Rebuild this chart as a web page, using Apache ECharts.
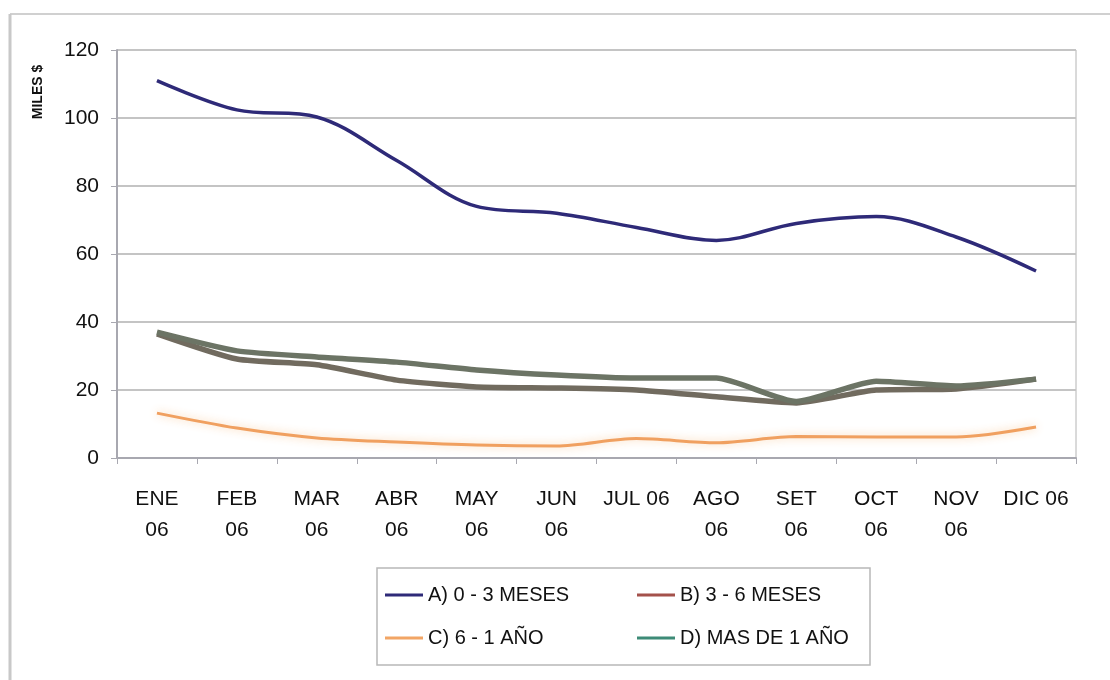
<!DOCTYPE html>
<html>
<head>
<meta charset="utf-8">
<script src="https://cdn.jsdelivr.net/npm/echarts@6/dist/echarts.min.js"></script>
<style>
  html, body { margin: 0; padding: 0; background: #ffffff; }
  #chart { width: 1110px; height: 680px; }
</style>
</head>
<body>
<div id="chart"></div>
<script>
// Month labels (as wrapped on the axis)
const months = ['ENE\n06', 'FEB\n06', 'MAR\n06', 'ABR\n06', 'MAY\n06', 'JUN\n06',
                'JUL 06', 'AGO\n06', 'SET\n06', 'OCT\n06', 'NOV\n06', 'DIC 06'];

// Balances by age bucket, thousands of dollars
const serieA = [111, 102.4, 100.3, 87.5, 74, 72, 67.8, 64, 69, 71, 65, 55];
const serieB = [36.5, 29.1, 27.4, 22.9, 20.9, 20.6, 20, 18, 16.2, 20, 20.3, 23.2];
const serieC = [13.2, 8.8, 5.9, 4.7, 3.8, 3.5, 5.7, 4.5, 6.3, 6.2, 6.2, 9.1];
const serieD = [37, 31.5, 29.7, 28.2, 25.9, 24.4, 23.5, 23.5, 16.6, 22.6, 21.2, 23.2];

const names = ['A) 0 - 3 MESES', 'B) 3 - 6 MESES', 'C) 6 - 1 AÑO', 'D) MAS DE 1 AÑO'];
const yTicks = { min: 0, max: 120, step: 20 };

const FONT = '"Liberation Sans", Arial, sans-serif';
const chart = echarts.init(document.getElementById('chart'));

function lineSeries(name, data, color, width, smooth, extra) {
  return Object.assign({
    name: name,
    type: 'line',
    data: data,
    smooth: smooth,
    symbol: 'none',
    color: color,
    lineStyle: { color: color, width: width },
    z: 3
  }, extra || {});
}

const legendText = { fontSize: 20, color: '#111', fontFamily: FONT };
function legendItem(name, color) {
  return { name: name, icon: 'rect', itemStyle: { color: color, borderWidth: 0 } };
}

chart.setOption({
  backgroundColor: '#ffffff',
  animation: false,
  grid: {
    left: 117, right: 34, top: 50, bottom: 222,
    show: true, borderColor: '#b4b4b4', borderWidth: 1
  },
  xAxis: {
    type: 'category',
    data: months,
    boundaryGap: true,
    axisLine: { lineStyle: { color: '#a8a8b0', width: 2 } },
    axisTick: { show: true, length: 6, lineStyle: { color: '#a8a8b0' } },
    axisLabel: {
      color: '#111', fontSize: 21, fontFamily: FONT, lineHeight: 31,
      margin: 26, interval: 0
    },
    splitLine: { show: false }
  },
  yAxis: {
    type: 'value',
    min: yTicks.min, max: yTicks.max, interval: yTicks.step,
    axisLine: { show: true, lineStyle: { color: '#a8a8b0', width: 2 } },
    axisTick: { show: true, length: 6, lineStyle: { color: '#a8a8b0' } },
    axisLabel: { color: '#111', fontSize: 21, fontFamily: FONT, margin: 18 },
    splitLine: { lineStyle: { color: '#c4c4c4', width: 2 } }
  },
  legend: [
    {
      orient: 'vertical', left: 380, top: 579,
      itemWidth: 38, itemHeight: 3, itemGap: 21,
      data: [legendItem(names[0], '#2e2a78'), legendItem(names[2], '#f2a565')],
      textStyle: Object.assign({ lineHeight: 22 }, legendText)
    },
    {
      orient: 'vertical', left: 632, top: 579,
      itemWidth: 38, itemHeight: 3, itemGap: 21,
      data: [legendItem(names[1], '#a4514b'), legendItem(names[3], '#3d8b77')],
      textStyle: Object.assign({ lineHeight: 22 }, legendText)
    }
  ],
  graphic: [
    // outer frame
    { type: 'line', shape: { x1: 10, y1: 14, x2: 1110, y2: 14 }, style: { stroke: '#d0d0d0', lineWidth: 2 } },
    { type: 'line', shape: { x1: 10, y1: 14, x2: 10, y2: 680 }, style: { stroke: '#c8c8c8', lineWidth: 3 } },
    // legend box
    { type: 'rect', shape: { x: 377, y: 568, width: 493, height: 97 },
      style: { fill: 'none', stroke: '#b8b8b8', lineWidth: 1.5 }, z: 0 },
    // axis title
    { type: 'text', x: 38, y: 92, rotation: Math.PI / 2,
      style: { text: 'MILES $', font: 'bold 14px ' + FONT, fill: '#111',
               textAlign: 'center', textVerticalAlign: 'middle' } }
  ],
  series: [
    lineSeries(names[0], serieA, '#2e2a78', 3.5, 0.35),
    lineSeries(names[1], serieB, '#716b5f', 5.5, 0.2),
    lineSeries(names[2], serieC, '#f0a060', 3, 0.3, {
      lineStyle: { color: '#f0a060', width: 3, shadowColor: 'rgba(250,205,160,0.9)', shadowBlur: 8 }
    }),
    lineSeries(names[3], serieD, '#6c7465', 5.5, 0.2)
  ]
});
</script>
</body>
</html>
